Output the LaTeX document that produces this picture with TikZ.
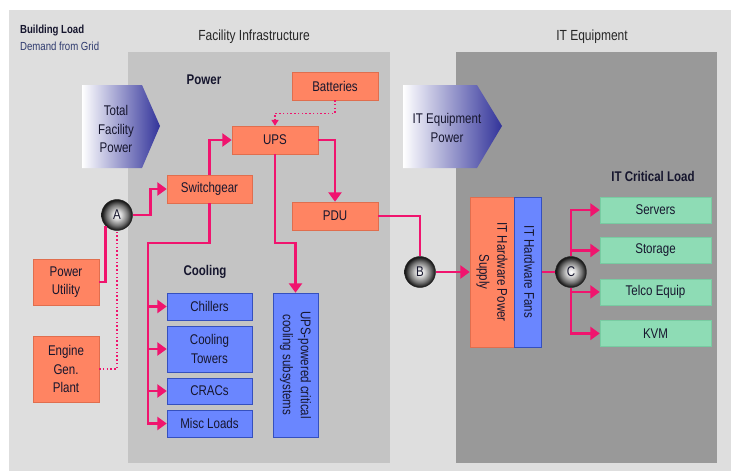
\documentclass[tikz,border=0pt]{standalone}
\usepackage{fontspec}
\setmainfont[FakeStretch=0.82]{Liberation Sans}
\usetikzlibrary{arrows.meta, calc, positioning}
\definecolor{salmon}{HTML}{FF8462}
\definecolor{salmonedge}{HTML}{E06E4E}
\definecolor{coolblue}{HTML}{6A86FF}
\definecolor{cooledge}{HTML}{3550BE}
\definecolor{mint}{HTML}{8EDCB5}
\definecolor{mintedge}{HTML}{78CCA2}
\definecolor{wirepink}{HTML}{F0146E}
\definecolor{ink}{HTML}{16162E}
\definecolor{gridblue}{HTML}{2E3A6E}
\definecolor{panel}{HTML}{DEDEDE}
\definecolor{facility}{HTML}{C4C4C4}
\definecolor{itpanel}{HTML}{999999}
\definecolor{arrowblue}{HTML}{32339A}
\pgfdeclareradialshading{jointball}{\pgfpoint{0bp}{0bp}}{color(0bp)=(white); color(7bp)=(white!85!black); color(17bp)=(black!55); color(24bp)=(black!90); color(50bp)=(black)}
\newcommand{\boxfont}{\fontsize{12}{15.5}\selectfont}
\newcommand{\vtext}[1]{\rotatebox{-90}{\begin{tabular}{@{}c@{}}#1\end{tabular}}}
\tikzstyle{powerbox} = [rectangle, fill=salmon, draw=salmonedge, text=ink, align=center, inner sep=0pt, font=\boxfont]
\tikzstyle{coolbox} = [rectangle, fill=coolblue, draw=cooledge, text=ink, align=center, inner sep=0pt, font=\boxfont]
\tikzstyle{loadbox} = [rectangle, fill=mint, draw=mintedge, text=ink, align=center, inner sep=0pt, font=\boxfont, minimum width=3.33cm, minimum height=0.78cm]
\tikzstyle{joint} = [circle, inner sep=0pt, minimum size=0.93cm, draw=black!85, shading=jointball, text=ink, font=\boxfont]
\tikzstyle{heading} = [text=ink, font=\bfseries\fontsize{12}{14}\selectfont]
\tikzstyle{title} = [text=black!85, font=\fontsize{12.5}{15}\selectfont]
\tikzstyle{wire} = [line width=2.4pt, draw=wirepink, -{Triangle[length=8pt,width=11pt]}]
\tikzstyle{backup} = [line width=1.2pt, draw=wirepink, dotted]

\begin{document}
\begin{tikzpicture}[x=0.03cm, y=-0.03cm]
	\useasboundingbox (0,0) rectangle (731,471);
	\fill[white] (0,0) rectangle (731,471);
	\fill[panel] (9,10) rectangle (731,471);
	\fill[facility] (128,52) rectangle (390,463);
	\fill[itpanel] (456,52) rectangle (717,463);
	\shade[left color=white, right color=arrowblue] (82,85) -- (142,85) -- (160,126) -- (142,168) -- (82,168) -- cycle;
	\shade[left color=white, right color=arrowblue] (403,85) -- (477,85) -- (502,126) -- (477,168) -- (403,168) -- cycle;
	
	\node (BuildingLoad) [anchor=west, text=ink, font=\bfseries\fontsize{10}{12}\selectfont] at (16,30) {Building Load};
	\node (DemandGrid) [anchor=west, text=gridblue, font=\fontsize{10}{12}\selectfont] at (16,46) {Demand from Grid};
	\node (FacilityTitle) [title] at (254,37) {Facility Infrastructure};
	\node (ITTitle) [title] at (592,37) {IT Equipment};
	\node (TotalPower) [text=ink, align=center, font=\fontsize{12}{16}\selectfont] at (116,129) {Total\\Facility\\Power};
	\node (ITPower) [text=ink, align=center, font=\fontsize{12}{16}\selectfont] at (447,128) {IT Equipment\\Power};
	\node (PowerLabel) [heading] at (204,80) {Power};
	\node (CoolingLabel) [heading] at (205,272) {Cooling};
	\node (CriticalLabel) [heading] at (653,176) {IT Critical Load};
	
	\node (Batteries) [powerbox, minimum width=2.58cm, minimum height=0.84cm] at (335,86) {Batteries};
	\node (UPS) [powerbox, minimum width=2.58cm, minimum height=0.84cm] at (275,140) {UPS};
	\node (Switchgear) [powerbox, minimum width=2.55cm, minimum height=0.84cm] at (209.5,189) {Switchgear};
	\node (PDU) [powerbox, minimum width=2.58cm, minimum height=0.84cm] at (335,216) {PDU};
	\node (PowerUtility) [powerbox, minimum width=1.98cm, minimum height=1.38cm, font=\fontsize{12}{16}\selectfont] at (66,282) {Power\\Utility};
	\node (EngineGen) [powerbox, minimum width=1.98cm, minimum height=1.98cm, font=\fontsize{12}{16}\selectfont] at (66,369) {Engine\\Gen.\\Plant};
	
	\node (Chillers) [coolbox, minimum width=2.55cm, minimum height=0.81cm] at (209.5,306.5) {Chillers};
	\node (CoolingTowers) [coolbox, minimum width=2.55cm, minimum height=1.38cm] at (209.5,349) {Cooling\\Towers};
	\node (CRACs) [coolbox, minimum width=2.55cm, minimum height=0.78cm] at (209.5,391) {CRACs};
	\node (MiscLoads) [coolbox, minimum width=2.55cm, minimum height=0.81cm] at (209.5,423.5) {Misc Loads};
	\node (UPSCooling) [coolbox, minimum width=1.35cm, minimum height=4.32cm] at (295.5,365) {\vtext{UPS-powered critical\\cooling subsystems}};
	
	\node (ITSupply) [powerbox, minimum width=1.32cm, minimum height=4.5cm] at (492,272) {\vtext{IT Hardware Power\\Supply}};
	\node (ITFans) [coolbox, minimum width=0.81cm, minimum height=4.5cm, right = 0pt of ITSupply] {\vtext{IT Hardware Fans}};
	
	\node (Servers) [loadbox] at (655.5,210) {Servers};
	\node (Storage) [loadbox, below = 0.42cm of Servers] {Storage};
	\node (Telco) [loadbox, below = 0.45cm of Storage] {Telco Equip};
	\node (KVM) [loadbox, below = 0.45cm of Telco] {KVM};
	
	\node (A) [joint] at (117,215) {A};
	\node (B) [joint] at (420,272) {B};
	\node (C) [joint] at (571,272) {C};
	
	\coordinate (CoolBus) at (148,243);
	\coordinate (UPSDrop) at (275,243);
	
	\draw [backup] (EngineGen.east) -| (A.south);
	\draw [backup, -{Triangle[length=5pt,width=6pt]}] (Batteries.south) -- ++(0,13) -| (UPS.north);
	\draw [wire, -] (PowerUtility.east) -| (A.south west);
	\draw [wire] (A.east) -- ++(18,0) |- (Switchgear.west);
	\draw [wire] (Switchgear.north) |- (UPS.west);
	\draw [wire] (UPS.east) -| (PDU.north);
	\draw [wire] (UPS.south) -- (UPSDrop) -| (UPSCooling.north);
	\draw [wire] (Switchgear.south) |- (CoolBus) |- (MiscLoads.west);
	\draw [wire] (CoolBus) |- (Chillers.west);
	\draw [wire] (CoolBus) |- (CoolingTowers.west);
	\draw [wire] (CoolBus) |- (CRACs.west);
	\draw [wire, -] (PDU.east) -| (B.north);
	\draw [wire] (B.east) -- (ITSupply.west);
	\draw [wire, -] (ITFans.east) -- (C.west);
	\draw [wire] (C.north) |- (Servers.west);
	\draw [wire] (C.north) |- (Storage.west);
	\draw [wire] (C.south) |- (Telco.west);
	\draw [wire] (C.south) |- (KVM.west);
\end{tikzpicture}
\end{document}
